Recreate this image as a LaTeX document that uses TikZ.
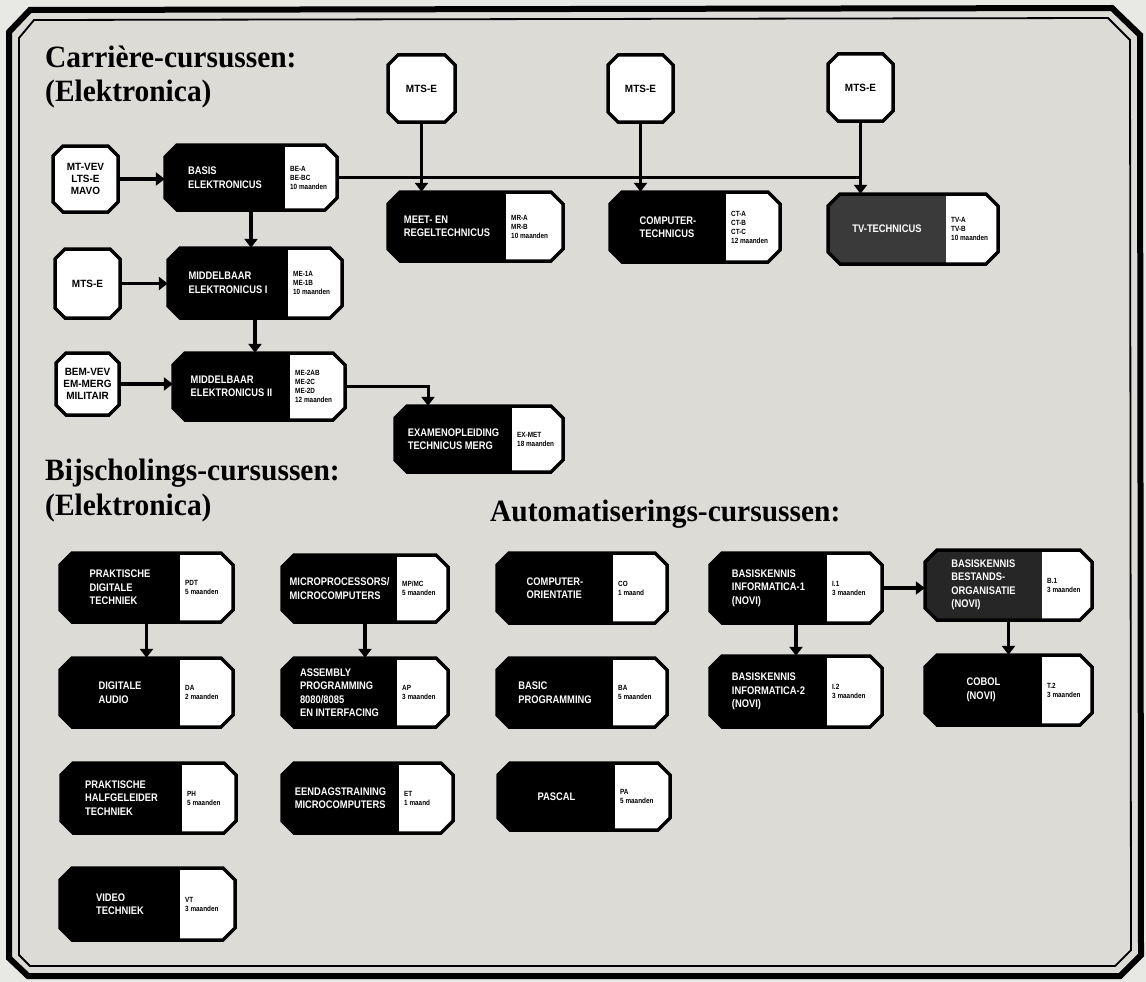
\documentclass[tikz,border=0pt]{standalone}
\usepackage{fontspec}
\setmainfont{Liberation Serif}
\newfontfamily\headfont[FakeStretch=0.95]{Liberation Serif}
\newfontfamily\boxfont[FakeStretch=0.85]{Liberation Sans}
\newfontfamily\entryfont[FakeStretch=0.95]{Liberation Sans}
\usetikzlibrary{arrows.meta}
\definecolor{paper}{HTML}{DCDBD6}
\definecolor{paperout}{HTML}{E8E8E5}
\definecolor{tvgray}{HTML}{3A3A3A}
\definecolor{bgray}{HTML}{262626}
\tikzset{
 boxline/.style={line width=3.5pt, line join=miter},
 coursetitle/.style={text=white, font=\boxfont\bfseries\fontsize{11}{13.5}\selectfont, align=left, inner sep=0},
 coursecode/.style={text=black, anchor=west, font=\boxfont\bfseries\fontsize{7.5}{9}\selectfont, align=left, inner sep=0},
 anchorbox/.style={inner sep=0, draw=none},
 entrytext/.style={font=\entryfont\bfseries\fontsize{10.5}{12}\selectfont, align=center, inner sep=0},
 conn/.style={line width=3.5pt, -{Triangle[width=13pt,length=9pt]}},
 feed/.style={line width=3pt},
 heading/.style={font=\headfont\bfseries\fontsize{31}{34}\selectfont, anchor=base west, inner sep=0},
}
\newcommand\crsbox[9]{%
  \begin{scope}
    \clip (#2+12,#3) -- (#4-12,#3) -- (#4,#3+12) -- (#4,#5-12) -- (#4-12,#5) -- (#2+12,#5) -- (#2,#5-12) -- (#2,#3+12) -- cycle;
    \fill[white] (#2,#3) rectangle (#4,#5);
    \fill[#7] (#2,#3) rectangle (#6,#5);
  \end{scope}
  \draw[boxline] (#2+12,#3) -- (#4-12,#3) -- (#4,#3+12) -- (#4,#5-12) -- (#4-12,#5) -- (#2+12,#5) -- (#2,#5-12) -- (#2,#3+12) -- cycle;
  \node[coursetitle] (#1-t) at ({(#2+#6)/2},{(#3+#5)/2}) {#8};
  \node[coursecode] (#1-c) at (#6+5,{(#3+#5)/2}) {#9};
  \node[anchorbox, minimum width={(#4-#2)*1pt}, minimum height={(#5-#3)*1pt}] (#1) at ({(#2+#4)/2},{(#3+#5)/2}) {};
}
\newcommand\entrybox[6]{%
  \draw[boxline, fill=white] (#2+10,#3) -- (#4-10,#3) -- (#4,#3+10) -- (#4,#5-10) -- (#4-10,#5) -- (#2+10,#5) -- (#2,#5-10) -- (#2,#3+10) -- cycle;
  \node[entrytext, minimum width={(#4-#2)*1pt}, minimum height={(#5-#3)*1pt}] (#1) at ({(#2+#4)/2},{(#3+#5)/2}) {#6};
}
\begin{document}
\begin{tikzpicture}[x=1pt,y=-1pt]
\useasboundingbox (0,0) rectangle (1146,982);
\fill[paperout] (0,0) rectangle (1146,982);
% frame
\fill[paper] (30,10) -- (1112,8) -- (1140,35) -- (1141,955) -- (1120,976) -- (28,976) -- (9,958) -- (9,32) -- cycle;
\draw[line width=6pt, line join=miter] (30,10) -- (1112,8) -- (1140,35) -- (1141,955) -- (1120,976) -- (28,976) -- (9,958) -- (9,32) -- cycle;
\draw[line width=1.8pt] (34,20) -- (1108,18) -- (1130,40) -- (1131,950) -- (1115,966) -- (30,966) -- (19,955) -- (19,38) -- cycle;

% headings
\node[heading] (h1) at (45,68) {Carrière-cursussen:};
\node[heading] (h1b) at (45,101) {(Elektronica)};
\node[heading] (h2) at (45,480) {Bijscholings-cursussen:};
\node[heading] (h2b) at (45,515) {(Elektronica)};
\node[heading] (h3) at (490,521) {Automatiserings-cursussen:};

% Carriere entry boxes
\entrybox{e1}{53}{146}{118}{212}{MT-VEV\\LTS-E\\MAVO}
\entrybox{e2}{55}{249}{120}{318}{MTS-E}
\entrybox{e3}{56}{353}{119}{415}{BEM-VEV\\EM-MERG\\MILITAIR}
\entrybox{m1}{388}{55}{455}{122}{MTS-E}
\entrybox{m2}{608}{55}{673}{122}{MTS-E}
\entrybox{m3}{828}{54}{893}{121}{MTS-E}

% Carriere courses
\crsbox{be}{165}{145}{337}{210}{285}{black}{BASIS\\ELEKTRONICUS}{BE-A\\BE-BC\\10 maanden}
\crsbox{meet}{388}{192}{563}{261}{506}{black}{MEET- EN\\REGELTECHNICUS}{MR-A\\MR-B\\10 maanden}
\crsbox{ct}{610}{192}{780}{262}{726}{black}{COMPUTER-\\TECHNICUS}{CT-A\\CT-B\\CT-C\\12 maanden}
\crsbox{tv}{828}{194}{998}{264}{946}{tvgray}{TV-TECHNICUS}{TV-A\\TV-B\\10 maanden}
\crsbox{me1}{168}{248}{342}{318}{288}{black}{MIDDELBAAR\\ELEKTRONICUS I}{ME-1A\\ME-1B\\10 maanden}
\crsbox{me2}{173}{353}{345}{420}{290}{black}{MIDDELBAAR\\ELEKTRONICUS II}{ME-2AB\\ME-2C\\ME-2D\\12 maanden}
\crsbox{ex}{395}{406}{563}{472}{512}{black}{EXAMENOPLEIDING\\TECHNICUS MERG}{EX-MET\\18 maanden}

% Carriere connectors
\coordinate (tvj) at (860.5,177.5);
\draw[feed] (be.east) -- (tvj);
\draw[conn] (m1.south) -- (m1.south |- meet.north);
\draw[conn] (m2.south) -- (m2.south |- ct.north);
\draw[conn] (m3.south) -- (m3.south |- tv.north);
\draw[conn] (e1.east) -- (e1.east -| be.west);
\draw[conn] (e2.east) -- (e2.east -| me1.west);
\draw[conn] (e3.east) -- (e3.east -| me2.west);
\draw[conn] (be.south) -- (be.south |- me1.north);
\draw[conn] (me1.south) -- (me1.south |- me2.north);
\coordinate (exj) at (428,386.5);
\draw[feed, -{Triangle[width=13pt,length=9pt]}] (me2.east) -- (exj) -- (exj |- ex.north);

% Bijscholing
\crsbox{pdt}{60}{553}{233}{622}{180}{black}{PRAKTISCHE\\DIGITALE\\TECHNIEK}{PDT\\5 maanden}
\crsbox{da}{60}{658}{233}{727}{180}{black}{DIGITALE\\AUDIO}{DA\\2 maanden}
\crsbox{ph}{61}{763}{236}{833}{182}{black}{PRAKTISCHE\\HALFGELEIDER\\TECHNIEK}{PH\\5 maanden}
\crsbox{vt}{60}{868}{235}{940}{180}{black}{VIDEO\\TECHNIEK}{VT\\3 maanden}
\crsbox{mp}{282}{555}{448}{622}{397}{black}{MICROPROCESSORS/\\MICROCOMPUTERS}{MP/MC\\5 maanden}
\crsbox{ap}{282}{658}{448}{727}{397}{black}{ASSEMBLY\\PROGRAMMING\\8080/8085\\EN INTERFACING}{AP\\3 maanden}
\crsbox{et}{282}{763}{453}{833}{399}{black}{EENDAGSTRAINING\\MICROCOMPUTERS}{ET\\1 maand}
\draw[conn] (pdt.south) -- (pdt.south |- da.north);
\draw[conn] (mp.south) -- (mp.south |- ap.north);

% Automatisering
\crsbox{co}{497}{553}{667}{623}{613}{black}{COMPUTER-\\ORIENTATIE}{CO\\1 maand}
\crsbox{ba}{497}{658}{667}{727}{613}{black}{BASIC\\PROGRAMMING}{BA\\5 maanden}
\crsbox{pa}{498}{763}{670}{830}{615}{black}{PASCAL}{PA\\5 maanden}
\crsbox{i1}{710}{553}{882}{623}{827}{black}{BASISKENNIS\\INFORMATICA-1\\(NOVI)}{I.1\\3 maanden}
\crsbox{i2}{710}{656}{882}{727}{827}{black}{BASISKENNIS\\INFORMATICA-2\\(NOVI)}{I.2\\3 maanden}
\crsbox{b1}{925}{550}{1092}{620}{1042}{bgray}{BASISKENNIS\\BESTANDS-\\ORGANISATIE\\(NOVI)}{B.1\\3 maanden}
\crsbox{cb}{925}{655}{1092}{725}{1042}{black}{COBOL\\(NOVI)}{T.2\\3 maanden}
\draw[conn] (i1.east) -- (i1.east -| b1.west);
\draw[conn] (i1.south) -- (i1.south |- i2.north);
\draw[conn] (b1.south) -- (b1.south |- cb.north);
\end{tikzpicture}
\end{document}
